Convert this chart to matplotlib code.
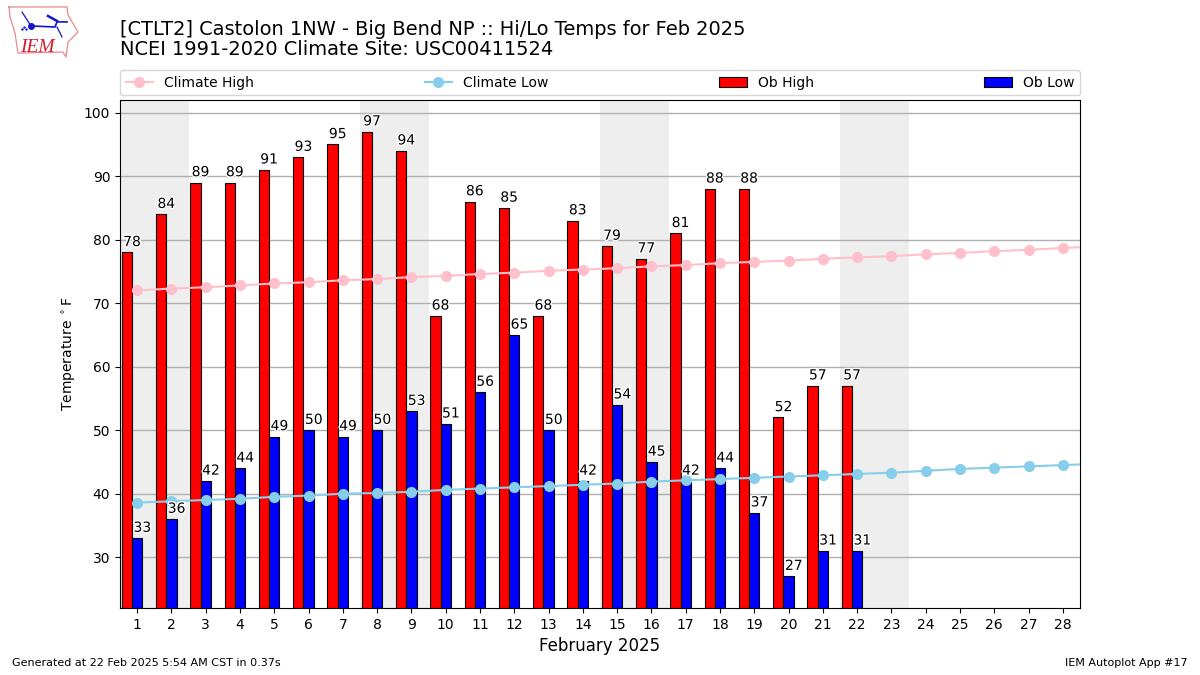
"""Hi/Lo temperatures vs. climate for Castolon, Feb 2025."""

import matplotlib
matplotlib.use("Agg")
import matplotlib.pyplot as plt
import matplotlib.patheffects as pe

days = list(range(1, 29))
day_labels = [str(d) for d in days]

ob_high = [78, 84, 89, 89, 91, 93, 95, 97, 94, 68, 86, 85, 68, 83, 79, 77, 81, 88, 88, 52, 57, 57]
ob_low = [33, 36, 42, 44, 49, 50, 49, 50, 53, 51, 56, 65, 50, 42, 54, 45, 42, 44, 37, 27, 31, 31]

# climate series runs one day past the end of the axis
climate_days = list(range(1, 30))
climate_high = [72.0, 72.3, 72.5, 72.8, 73.1, 73.3, 73.6, 73.8, 74.1, 74.3,
                74.6, 74.8, 75.1, 75.3, 75.5, 75.8, 76.0, 76.3, 76.5, 76.7,
                77.0, 77.2, 77.4, 77.7, 77.9, 78.2, 78.4, 78.7, 78.9]
climate_low = [38.6, 38.8, 39.0, 39.2, 39.5, 39.7, 40.0, 40.1, 40.3, 40.6,
               40.8, 41.0, 41.2, 41.4, 41.6, 41.9, 42.1, 42.3, 42.5, 42.7,
               42.9, 43.1, 43.3, 43.6, 43.9, 44.1, 44.3, 44.5, 44.7]

weekends = [(0.5, 2.5), (7.5, 9.5), (14.5, 16.5), (21.5, 23.5)]


def draw_logo(fig):
    """Rough IEM logo, state outline plus the blue instrument."""
    ax = fig.add_axes([0.007, 0.912, 0.06, 0.08])
    ax.set_xlim(0, 72)
    ax.set_ylim(52, 0)
    ax.axis("off")
    outline_x = [0.6, 58.6, 59.6, 69.6, 59.6, 57.6, 54.6, 9.6, 6.6, 1.6, 0.6]
    outline_y = [1.5, 1.5, 9.2, 25.6, 35.3, 49.7, 44.9, 45.9, 26.6, 11.2, 1.5]
    ax.plot(outline_x, outline_y, color="#e58a8a", lw=0.9)
    ax.plot([22.6, 46.6, 48.6, 58.6], [19.8, 20.8, 15.9, 15.9], color="#1414c8", lw=1.2)
    ax.plot([22.6], [19.8], "o", color="#1414c8", ms=4)
    ax.plot([13.6, 22.6], [6.4, 19.8], color="#1414c8", lw=0.9)
    ax.plot([39.6, 48.6], [10.2, 15], color="#1414c8", lw=1.8)
    ax.plot([48.6, 53.6], [20.8, 30.4], color="#1414c8", lw=0.9)
    ax.plot([14, 15.6, 17.5], [23, 21, 23], ".", color="#1414c8", ms=1.5)
    ax.text(29, 45, "IEM", color="#d01c2c", family="Liberation Serif",
            style="italic", fontsize=14, ha="center", va="baseline")


def main():
    fig = plt.figure(figsize=(12, 6.75), dpi=100)
    ax = fig.add_axes([0.1, 0.0993, 0.8, 0.7526])

    for start, end in weekends:
        ax.axvspan(start, end, color="#eeeeee", lw=0, zorder=0)

    obs_days = days[:len(ob_high)]
    ax.bar([d - 0.3 for d in obs_days], ob_high, width=0.3, color="red",
           edgecolor="black", lw=0.8, label="Ob High", zorder=2)
    ax.bar(obs_days, ob_low, width=0.3, color="blue",
           edgecolor="black", lw=0.8, label="Ob Low", zorder=2)

    ax.plot(climate_days, climate_high, "-o", color="pink", lw=1.5, ms=7,
            label="Climate High", zorder=3)
    ax.plot(climate_days, climate_low, "-o", color="skyblue", lw=1.5, ms=7,
            label="Climate Low", zorder=3)

    halo = [pe.withStroke(linewidth=2, foreground="white")]
    for d, hi, lo in zip(obs_days, ob_high, ob_low):
        ax.annotate(str(hi), (d - 0.15, hi), xytext=(0, 2.4), textcoords="offset points",
                    ha="center", va="bottom", fontsize=10, path_effects=halo, zorder=4)
        ax.annotate(str(lo), (d + 0.15, lo), xytext=(0, 2.4), textcoords="offset points",
                    ha="center", va="bottom", fontsize=10, path_effects=halo, zorder=4)

    ax.set_xlim(0.5, 28.5)
    ax.set_ylim(22, 102)
    ax.set_xticks(days)
    ax.set_xticklabels(day_labels)
    ax.set_yticks(range(30, 101, 10))
    ax.yaxis.grid(True, color="#b0b0b0", lw=1, zorder=1)
    ax.set_axisbelow(True)
    ax.set_xlabel("February 2025", fontsize=12)
    ax.set_ylabel(r"Temperature $^\circ$F")

    handles, labels = ax.get_legend_handles_labels()
    order = [labels.index(n) for n in ["Climate High", "Climate Low", "Ob High", "Ob Low"]]
    ax.legend([handles[i] for i in order], [labels[i] for i in order],
              loc="lower left", bbox_to_anchor=(0, 1.009, 1, 0.1), mode="expand",
              ncol=4, borderaxespad=0, fontsize=10)

    fig.text(0.1, 0.913, "[CTLT2] Castolon 1NW - Big Bend NP :: Hi/Lo Temps for Feb 2025\n"
             "NCEI 1991-2020 Climate Site: USC00411524", fontsize=13.98, va="bottom", ha="left",
             linespacing=1.05)
    fig.text(0.01, 0.013, "Generated at 22 Feb 2025 5:54 AM CST in 0.37s", fontsize=8)
    fig.text(0.99, 0.013, "IEM Autoplot App #17", fontsize=8, ha="right")

    draw_logo(fig)
    fig.savefig("out.png", dpi=100)


if __name__ == "__main__":
    main()
